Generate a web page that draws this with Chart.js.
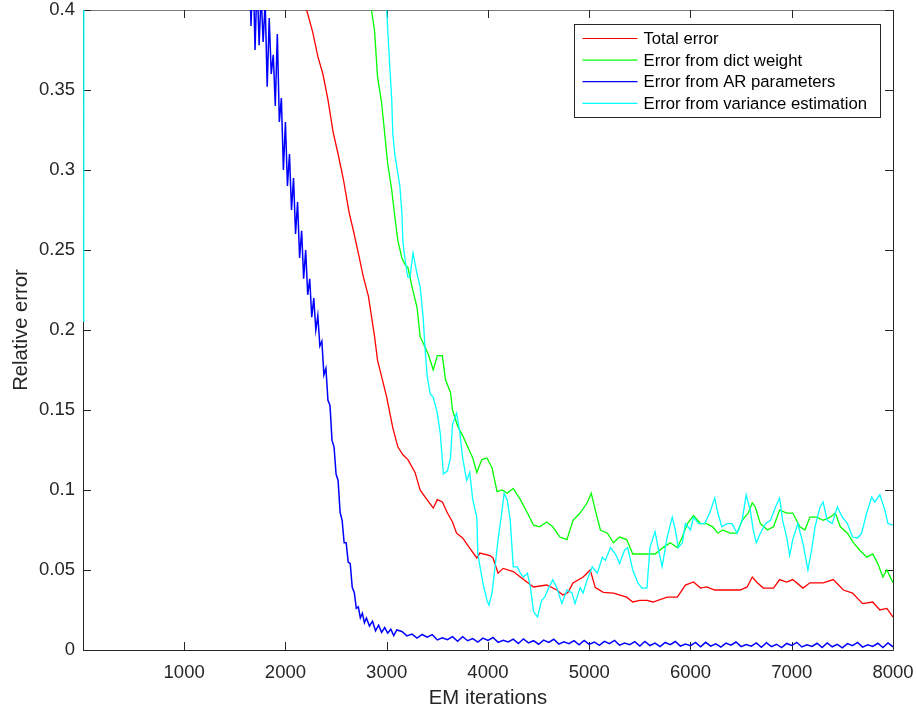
<!DOCTYPE html>
<html lang="en">
<head>
<meta charset="UTF-8">
<title>EM relative error</title>
<script src="https://cdn.jsdelivr.net/npm/chart.js"></script>
<style>
    html, body { margin: 0; padding: 0; background: #ffffff; }
</style>
</head>
<body>
<canvas id="grafico" width="917" height="713"></canvas>
<script>
    // eixos
    const xTicks = [1000, 2000, 3000, 4000, 5000, 6000, 7000, 8000];
    const yTicks = [0, 0.05, 0.1, 0.15, 0.2, 0.25, 0.3, 0.35, 0.4];
    const seriesNames = ['Total error', 'Error from dict weight', 'Error from AR parameters', 'Error from variance estimation'];
    const seriesColors = ['#ff0000', '#00ff00', '#0000ff', '#00ffff'];

    // [iteracao, erro]
    const totalError = [[2100,0.43],[2210,0.4],[2270,0.386],[2320,0.371],[2370,0.36],[2420,0.344],[2470,0.324],[2520,0.31],
        [2570,0.295],[2630,0.273],[2670,0.2625],[2720,0.248],[2770,0.233],[2820,0.221],[2880,0.196],[2910,0.181],[3000,0.158],
        [3060,0.139],[3110,0.127],[3160,0.122],[3210,0.119],[3280,0.111],[3330,0.1],[3380,0.0956],[3460,0.0887],[3500,0.094],
        [3550,0.0925],[3600,0.0856],[3650,0.08],[3690,0.073],[3750,0.07],[3820,0.0637],[3890,0.0575],[3920,0.0606],[4020,0.059],
        [4050,0.0575],[4100,0.048],[4150,0.051],[4250,0.049],[4320,0.0456],[4450,0.0394],[4580,0.0406],[4680,0.0375],[4740,0.0344],
        [4790,0.036],[4840,0.0419],[4940,0.0456],[5010,0.05],[5060,0.039],[5140,0.036],[5240,0.0356],[5370,0.033],[5430,0.03],
        [5500,0.031],[5570,0.031],[5630,0.03],[5770,0.033],[5870,0.033],[5950,0.0406],[6030,0.0425],[6100,0.0387],[6160,0.0394],
        [6240,0.0375],[6360,0.0375],[6490,0.0375],[6560,0.0394],[6610,0.0456],[6660,0.042],[6720,0.0387],[6820,0.0387],[6880,0.044],
        [6950,0.0425],[7010,0.044],[7110,0.0387],[7180,0.042],[7310,0.042],[7410,0.044],[7510,0.0375],[7600,0.0356],[7700,0.029],
        [7800,0.03],[7870,0.025],[7940,0.026],[8000,0.0206]];

    const dictError = [[2780,0.43],[2850,0.4],[2880,0.387],[2910,0.358],[2950,0.342],[2980,0.323],[3010,0.304],[3050,0.2875],
        [3080,0.271],[3110,0.256],[3150,0.245],[3180,0.241],[3210,0.239],[3250,0.227],[3300,0.214],[3330,0.196],[3380,0.189],
        [3410,0.185],[3460,0.175],[3500,0.184],[3550,0.184],[3580,0.169],[3630,0.161],[3650,0.15],[3700,0.14],[3750,0.134],
        [3800,0.127],[3850,0.12],[3890,0.111],[3940,0.119],[3990,0.12],[4040,0.114],[4090,0.099],[4140,0.1],[4190,0.098],
        [4250,0.101],[4320,0.094],[4390,0.0856],[4450,0.078],[4510,0.077],[4580,0.08],[4640,0.077],[4710,0.0706],[4780,0.069],
        [4840,0.081],[4910,0.0856],[4980,0.092],[5020,0.098],[5060,0.0875],[5110,0.075],[5180,0.073],[5240,0.067],[5300,0.0706],
        [5370,0.069],[5430,0.06],[5500,0.06],[5570,0.06],[5650,0.06],[5730,0.064],[5800,0.067],[5870,0.064],[5920,0.0706],
        [5970,0.079],[6030,0.084],[6100,0.079],[6160,0.079],[6220,0.077],[6270,0.073],[6320,0.075],[6390,0.073],[6460,0.073],
        [6510,0.081],[6570,0.0856],[6610,0.092],[6640,0.0894],[6690,0.079],[6760,0.075],[6820,0.077],[6880,0.0875],[6950,0.0856],
        [7010,0.0856],[7080,0.077],[7130,0.075],[7180,0.083],[7250,0.083],[7310,0.081],[7380,0.083],[7430,0.0856],[7480,0.077],
        [7550,0.073],[7610,0.067],[7670,0.0625],[7740,0.058],[7800,0.06],[7850,0.054],[7900,0.0456],[7940,0.05],[8000,0.042]];

    const arError = [[1640,0.44],[1660,0.39],[1680,0.43],[1700,0.375],[1720,0.42],[1740,0.378],[1760,0.41],[1780,0.38],
        [1800,0.405],[1820,0.352],[1840,0.395],[1860,0.36],[1880,0.372],[1900,0.34],[1920,0.385],[1940,0.33],[1960,0.345],
        [1980,0.3],[2000,0.33],[2020,0.29],[2040,0.31],[2060,0.275],[2080,0.295],[2100,0.26],[2120,0.28],[2140,0.245],
        [2160,0.262],[2180,0.232],[2200,0.25],[2220,0.222],[2240,0.232],[2260,0.208],[2280,0.22],[2300,0.2],[2320,0.209],
        [2340,0.19],[2360,0.193],[2380,0.172],[2400,0.176],[2420,0.156],[2440,0.153],[2460,0.131],[2480,0.127],[2500,0.11],
        [2520,0.106],[2540,0.086],[2560,0.081],[2580,0.067],[2600,0.067],[2620,0.055],[2640,0.054],[2660,0.039],[2680,0.036],
        [2700,0.026],[2720,0.027],[2740,0.02],[2760,0.023],[2780,0.017],[2800,0.02],[2830,0.015],[2860,0.018],[2890,0.012],
        [2920,0.0155],[2950,0.011],[2980,0.014],[3010,0.0105],[3040,0.013],[3070,0.009],[3100,0.0125],
        [3150,0.0116],[3200,0.0088],[3250,0.0099],[3300,0.0074],[3350,0.0097],[3400,0.008],[3450,0.0096],[3500,0.0063],
        [3550,0.0076],[3600,0.0065],[3650,0.0083],[3700,0.0055],[3750,0.0083],[3800,0.0058],[3850,0.0071],[3900,0.0049],
        [3950,0.0074],[4000,0.006],[4050,0.0078],[4100,0.0048],[4150,0.0061],[4200,0.005],[4250,0.0068],[4300,0.004],
        [4350,0.0069],[4400,0.0044],[4450,0.0058],[4500,0.0036],[4550,0.0062],[4600,0.0048],[4650,0.0067],[4700,0.0037],
        [4750,0.0051],[4800,0.004],[4850,0.0059],[4900,0.0032],[4950,0.006],[5000,0.0035],[5050,0.005],[5100,0.0029],
        [5150,0.0054],[5200,0.004],[5250,0.006],[5300,0.003],[5350,0.0043],[5400,0.0033],[5450,0.0052],[5500,0.0025],
        [5550,0.0053],[5600,0.0028],[5650,0.0043],[5700,0.0021],[5750,0.0047],[5800,0.0033],[5850,0.0053],[5900,0.0024],
        [5950,0.0037],[6000,0.0027],[6050,0.0047],[6100,0.002],[6150,0.0048],[6200,0.0024],[6250,0.0039],[6300,0.0018],
        [6350,0.0043],[6400,0.003],[6450,0.005],[6500,0.0021],[6550,0.0034],[6600,0.0024],[6650,0.0044],[6700,0.0017],
        [6750,0.0046],[6800,0.0021],[6850,0.0036],[6900,0.0015],[6950,0.0041],[7000,0.0028],[7050,0.0048],[7100,0.0019],
        [7150,0.0032],[7200,0.0022],[7250,0.0042],[7300,0.0015],[7350,0.0044],[7400,0.002],[7450,0.0035],[7500,0.0014],
        [7550,0.004],[7600,0.0027],[7650,0.0047],[7700,0.0018],[7750,0.0032],[7800,0.0022],[7850,0.0042],[7900,0.0015],
        [7950,0.0044],[8000,0.002]];

    const varianceError = [[8,0.205],[12,0.95],[2980,0.43],[3000,0.4],[3030,0.365],[3050,0.344],[3060,0.323],[3080,0.31],
        [3100,0.302],[3130,0.29],[3150,0.273],[3160,0.255],[3180,0.245],[3200,0.236],[3210,0.233],[3230,0.233],[3260,0.248],
        [3300,0.235],[3330,0.227],[3360,0.208],[3380,0.1875],[3400,0.171],[3430,0.16],[3460,0.158],[3500,0.148],[3530,0.135],
        [3560,0.11],[3600,0.112],[3630,0.12],[3650,0.141],[3690,0.148],[3720,0.137],[3750,0.12],[3790,0.106],[3820,0.111],
        [3850,0.094],[3890,0.083],[3900,0.06],[3950,0.042],[3990,0.031],[4010,0.028],[4040,0.0356],[4070,0.052],[4100,0.069],
        [4140,0.0875],[4160,0.098],[4190,0.094],[4220,0.081],[4250,0.052],[4290,0.052],[4320,0.048],[4350,0.0456],[4390,0.048],
        [4420,0.039],[4450,0.024],[4490,0.0206],[4530,0.031],[4560,0.033],[4590,0.0375],[4640,0.044],[4680,0.039],[4730,0.029],
        [4780,0.0375],[4830,0.0356],[4860,0.029],[4910,0.039],[4940,0.0356],[4980,0.044],[5030,0.052],[5080,0.048],[5130,0.058],
        [5160,0.056],[5210,0.064],[5260,0.06],[5300,0.054],[5350,0.0625],[5380,0.064],[5430,0.05],[5480,0.042],[5520,0.0387],
        [5570,0.0387],[5600,0.064],[5650,0.074],[5680,0.064],[5720,0.052],[5770,0.0706],[5820,0.083],[5850,0.075],[5880,0.064],
        [5920,0.067],[5950,0.079],[6000,0.075],[6030,0.083],[6080,0.079],[6140,0.079],[6190,0.0856],[6240,0.095],[6270,0.0856],
        [6310,0.077],[6360,0.079],[6410,0.079],[6460,0.073],[6510,0.081],[6550,0.097],[6590,0.0875],[6620,0.075],[6650,0.067],
        [6690,0.073],[6740,0.079],[6790,0.081],[6840,0.0894],[6880,0.095],[6910,0.081],[6950,0.0706],[6980,0.059],[7010,0.069],
        [7060,0.079],[7110,0.067],[7160,0.05],[7200,0.064],[7230,0.077],[7280,0.0894],[7310,0.0925],[7350,0.081],[7400,0.079],
        [7450,0.0894],[7500,0.083],[7550,0.079],[7600,0.0706],[7650,0.07],[7690,0.073],[7740,0.0856],[7790,0.0956],[7820,0.0925],
        [7870,0.097],[7920,0.0875],[7950,0.079],[8000,0.078]];

    const allSeries = [totalError, dictError, arError, varianceError];
    const seriesWidths = [1.3, 1.3, 1.5, 1.3];
    const fonte = "'Liberation Sans', Arial, Helvetica, sans-serif";
    const corTexto = '#262626';

    function pontos(serie){
        return serie.map(function(p){ return {x: p[0], y: p[1]}; });
    }

    // moldura e ticks para dentro (por baixo das linhas), legenda por cima
    const moldura = {
        id: 'moldura',
        beforeDatasetsDraw: function(chart){
            const ctx = chart.ctx;
            const a = chart.chartArea;
            const sx = chart.scales.x;
            const sy = chart.scales.y;
            ctx.save();
            ctx.lineWidth = 1;
            ctx.strokeStyle = corTexto;
            ctx.beginPath();
            ctx.moveTo(a.left + 0.5, a.top);
            ctx.lineTo(a.left + 0.5, a.bottom + 0.5);
            ctx.lineTo(a.right + 0.5, a.bottom + 0.5);
            ctx.lineTo(a.right + 0.5, a.top);
            ctx.stroke();
            ctx.strokeStyle = '#7a7a7a';
            ctx.beginPath();
            ctx.moveTo(a.left, a.top + 0.5);
            ctx.lineTo(a.right + 1, a.top + 0.5);
            ctx.stroke();
            ctx.strokeStyle = corTexto;
            ctx.beginPath();
            xTicks.forEach(function(v){
                const px = Math.round(sx.getPixelForValue(v)) + 0.5;
                ctx.moveTo(px, a.bottom); ctx.lineTo(px, a.bottom - 8);
                ctx.moveTo(px, a.top); ctx.lineTo(px, a.top + 8);
            });
            yTicks.forEach(function(v){
                const py = Math.round(sy.getPixelForValue(v)) + 0.5;
                ctx.moveTo(a.left, py); ctx.lineTo(a.left + 8, py);
                ctx.moveTo(a.right, py); ctx.lineTo(a.right - 8, py);
            });
            ctx.stroke();
            ctx.restore();
        },
        afterDraw: function(chart){
            const ctx = chart.ctx;
            const a = chart.chartArea;
            ctx.save();
            const w = 306, h = 93;
            const bx = a.right - 13 - w + 0.5;
            const by = a.top + 14 + 0.5;
            ctx.fillStyle = '#ffffff';
            ctx.fillRect(bx, by, w, h);
            ctx.lineWidth = 1;
            ctx.strokeStyle = corTexto;
            ctx.strokeRect(bx, by, w, h);
            ctx.font = '16.7px ' + fonte;
            ctx.textBaseline = 'middle';
            ctx.textAlign = 'left';
            for (var i = 0; i < seriesNames.length; i++){
                const ly = by + 14 + i * 21.6;
                ctx.strokeStyle = seriesColors[i];
                ctx.lineWidth = 1.2;
                ctx.beginPath();
                ctx.moveTo(bx + 8, ly); ctx.lineTo(bx + 63, ly);
                ctx.stroke();
                ctx.fillStyle = '#000000';
                ctx.fillText(seriesNames[i], bx + 69, ly + 1);
            }
            ctx.restore();
        }
    };

    const datasets = allSeries.map(function(s, i){
        return {
            label: seriesNames[i],
            data: pontos(s),
            borderColor: seriesColors[i],
            borderWidth: seriesWidths[i],
            pointRadius: 0,
            tension: 0,
            fill: false,
            order: 3 - i
        };
    });

    new Chart(document.getElementById('grafico'), {
        type: 'line',
        data: { datasets: datasets },
        options: {
            responsive: false,
            animation: false,
            layout: { padding: { top: 10, right: 24, left: 0, bottom: 0 } },
            plugins: { legend: { display: false }, tooltip: { enabled: false } },
            scales: {
                x: {
                    type: 'linear',
                    min: 1,
                    max: 8000,
                    afterBuildTicks: function(ax){ ax.ticks = xTicks.map(function(v){ return {value: v}; }); },
                    afterFit: function(ax){ ax.height = 63; ax.paddingLeft = 0; ax.paddingRight = 0; },
                    grid: { display: false, drawTicks: false },
                    border: { display: false },
                    ticks: {
                        font: { size: 18.5, family: fonte }, color: corTexto, padding: 12, maxRotation: 0, autoSkip: false,
                        callback: function(v){ return String(v); }
                    },
                    title: { display: true, text: 'EM iterations', font: { size: 20.3, family: fonte }, color: corTexto, padding: { top: 0, bottom: 2 } }
                },
                y: {
                    min: 0,
                    max: 0.4,
                    afterBuildTicks: function(ax){ ax.ticks = yTicks.map(function(v){ return {value: v}; }); },
                    afterFit: function(ax){ ax.width = 83; ax.paddingTop = 0; ax.paddingBottom = 0; },
                    grid: { display: false, drawTicks: false },
                    border: { display: false },
                    ticks: {
                        font: { size: 18.5, family: fonte }, color: corTexto, padding: 8, autoSkip: false,
                        callback: function(v){ return String(Number(v.toFixed(2))); }
                    },
                    title: { display: true, text: 'Relative error', font: { size: 20.3, family: fonte }, color: corTexto, padding: { top: 9, bottom: 0 } }
                }
            }
        },
        plugins: [moldura]
    });
</script>
</body>
</html>
